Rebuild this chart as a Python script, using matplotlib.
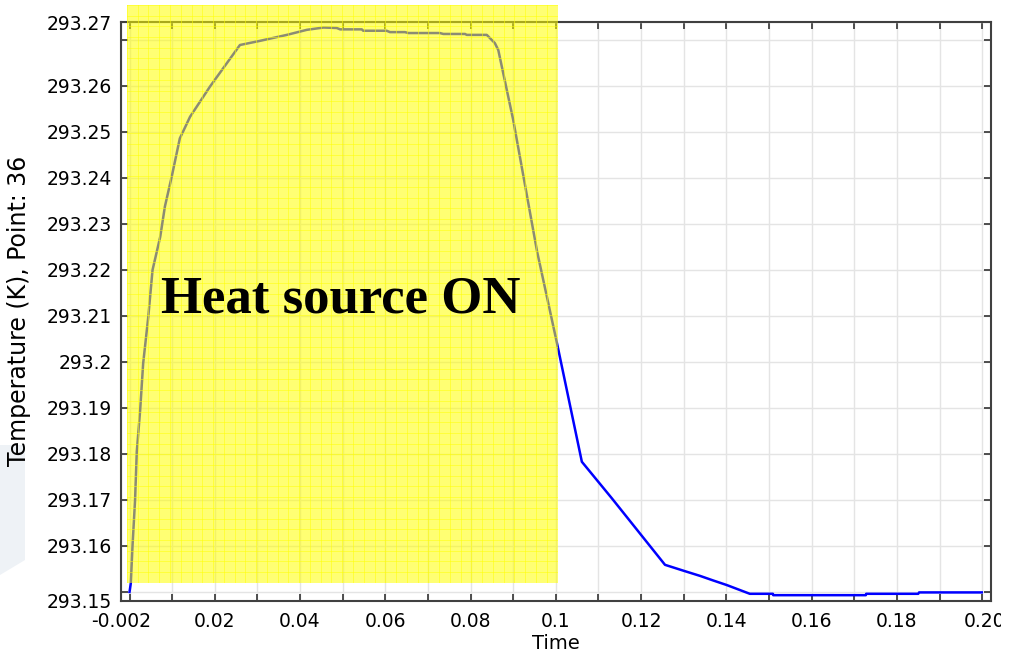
import numpy as np
import matplotlib.pyplot as plt
from matplotlib.patches import Rectangle, Polygon

# temperature at point 36 over time
time = [0.0, 0.0003, 0.0007, 0.0013, 0.0017, 0.0025, 0.0032, 0.0044, 0.0054,
        0.0072, 0.0083, 0.0099, 0.0118, 0.0142, 0.0189, 0.0259, 0.0306,
        0.0369, 0.0416, 0.0455, 0.0486, 0.0494, 0.0545, 0.0548, 0.0603,
        0.0611, 0.0646, 0.0654, 0.0728, 0.0736, 0.0787, 0.0791, 0.0838,
        0.0857, 0.0865, 0.0900, 0.0956, 0.1004, 0.1061, 0.1131, 0.1256,
        0.1300, 0.1338, 0.1369, 0.1401, 0.1455, 0.1509, 0.1510, 0.1727,
        0.1728, 0.1850, 0.1852, 0.1999]
temp = [293.1500, 293.1519, 293.1600, 293.1700, 293.1805, 293.1896, 293.1997,
        293.2098, 293.2200, 293.2272, 293.2338, 293.2403, 293.2486, 293.2533,
        293.2599, 293.2689, 293.2698, 293.2711, 293.2722, 293.2727, 293.2726,
        293.2723, 293.2723, 293.2720, 293.2720, 293.2717, 293.2717, 293.2715,
        293.2715, 293.2713, 293.2713, 293.2711, 293.2711, 293.2693, 293.2678,
        293.2526, 293.2240, 293.2035, 293.1783, 293.1704, 293.1559, 293.1546,
        293.1535, 293.1525, 293.1515, 293.1496, 293.1496, 293.1493, 293.1493,
        293.1496, 293.1496, 293.1499, 293.1499]

x_lim = (-0.002, 0.202)
y_lim = (293.1481, 293.2739)
x_ticks = [-0.002] + [round(0.01 * i, 2) for i in range(21)] + [0.202]
x_labels = ['-0.002', '', '', '0.02', '', '0.04', '', '0.06', '', '0.08', '',
            '0.1', '', '0.12', '', '0.14', '', '0.16', '', '0.18', '', '', '0.202']
y_ticks = [293.1481] + [round(293.15 + 0.01 * i, 2) for i in range(13)] + [293.2739]
y_labels = ['293.15', '', '293.16', '293.17', '293.18', '293.19', '293.2',
            '293.21', '293.22', '293.23', '293.24', '293.25', '293.26', '', '293.27']

# heat source on: shaded band (time, temperature extents)
heat_t = (-0.0006, 0.1004)
heat_T = (293.1520, 293.2776)

plt.rcParams['font.family'] = ['DejaVu Sans']
W, H = 1026, 659
fig = plt.figure(figsize=(W / 100, H / 100), dpi=100)
fig.subplots_adjust(left=121 / W, right=990.7 / W, bottom=1 - 600.7 / H, top=1 - 22 / H)
ax = fig.add_subplot(111)

ax.plot(time, temp, color='#0000ff', lw=1.8, zorder=3)

ax.set_xlim(*x_lim)
ax.set_ylim(*y_lim)
ax.set_xticks(x_ticks)
ax.set_xticklabels(x_labels)
ax.set_yticks(y_ticks)
ax.set_yticklabels(y_labels)
ax.grid(True, color='#e4e4e4', lw=1.0, zorder=0)
ax.set_axisbelow(True)
ax.tick_params(direction='in', length=5, width=1.3, color='#404040',
               labelsize=13.5, top=True, right=True)
ax.tick_params(axis='x', pad=8)
ax.tick_params(axis='y', pad=6.5)
for s in ax.spines.values():
    s.set_color('#404040')
    s.set_linewidth(1.5)

ax.set_xlabel('Time', fontsize=14)
ax.set_ylabel('Temperature (K), Point: 36', fontsize=17)
ax.xaxis.set_label_coords(0.5, -0.057)
ax.yaxis.set_label_coords(-0.103, 0.5)

# yellow overlay as its own axes so it can spill over the top spine
fig.canvas.draw()
inv = fig.transFigure.inverted()
(x0, y0) = inv.transform(ax.transData.transform((heat_t[0], heat_T[0])))
(x1, y1) = inv.transform(ax.transData.transform((heat_t[1], heat_T[1])))
ov = fig.add_axes([x0, y0, x1 - x0, y1 - y0], zorder=2)
ov.set_facecolor((1, 1, 0, 0.55))
ov.set_xlim(0, 1)
ov.set_ylim(0, 1)
ov.set_xticks(np.linspace(0, 1, 41))
ov.set_yticks(np.linspace(0, 1, 55))
ov.tick_params(length=0, labelbottom=False, labelleft=False)
ov.grid(True, color=(1, 1, 0), lw=0.7, alpha=0.5)
for s in ov.spines.values():
    s.set_visible(False)

fig.text(341 / W, 1 - 313 / H, 'Heat source ON', family='Liberation Serif',
         weight='bold', fontsize=38, ha='center', va='baseline', zorder=5)

# faint slide background at left and clipped right edge
fig.add_artist(Polygon([(0, 1 - 445 / H), (25 / W, 1 - 445 / H), (25 / W, 1 - 560 / H),
                        (0, 1 - 575 / H)], closed=True, transform=fig.transFigure,
                       facecolor='#eef2f6', edgecolor='none', zorder=-1))
fig.add_artist(Rectangle((1001 / W, 0), 25 / W, 1, transform=fig.transFigure,
                         facecolor='white', edgecolor='none', zorder=10))

fig.savefig('out.png', dpi=100)
